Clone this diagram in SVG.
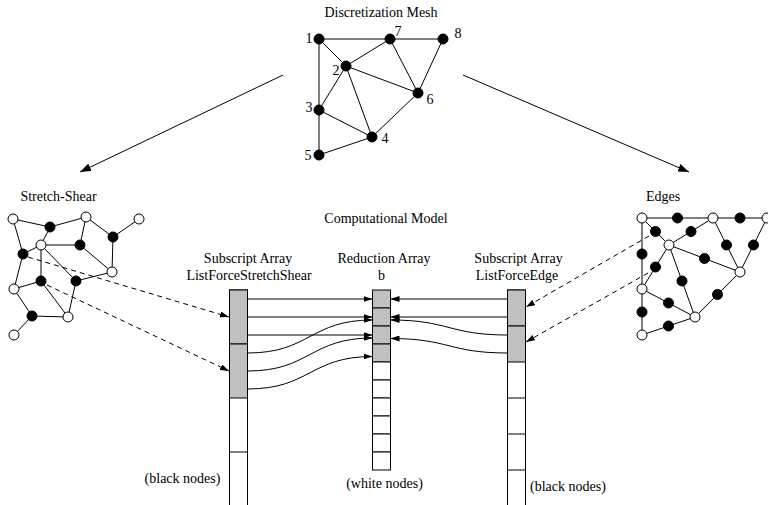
<svg xmlns="http://www.w3.org/2000/svg" width="768" height="505" viewBox="0 0 768 505">
<style>
text{font-family:"Liberation Serif","Times New Roman",serif;font-size:14px;fill:#000}
.c{text-anchor:middle}
.e{stroke:#000;stroke-width:1;fill:none}
.bn{fill:#000;stroke:#000;stroke-width:1}
.wn{fill:#fff;stroke:#000;stroke-width:1}
.g{fill:#c0c0c0;stroke:#000;stroke-width:1}
.w{fill:#fff;stroke:#000;stroke-width:1}
.a{stroke:#000;stroke-width:1;fill:none;marker-end:url(#ah)}
.d{stroke:#000;stroke-width:1;fill:none;stroke-dasharray:5,4;marker-end:url(#ah)}
</style>
<defs>
<marker id="ah" markerUnits="userSpaceOnUse" markerWidth="9" markerHeight="6" refX="9" refY="3" orient="auto">
<path d="M0,0 L9,3 L0,6 z" fill="#000"/>
</marker>
<marker id="ah2" markerUnits="userSpaceOnUse" markerWidth="11" markerHeight="8" refX="11" refY="4" orient="auto">
<path d="M0,0 L11,4 L0,8 z" fill="#000"/>
</marker>
</defs>
<rect width="768" height="505" fill="#fff"/>

<!-- Discretization mesh -->
<g id="mesh">
<text class="c" x="381" y="17">Discretization Mesh</text>
<g class="e">
<line x1="319" y1="39" x2="390" y2="39"/>
<line x1="390" y1="39" x2="443" y2="39"/>
<line x1="319" y1="39" x2="346" y2="66"/>
<line x1="346" y1="66" x2="390" y2="39"/>
<line x1="319" y1="39" x2="319" y2="155"/>
<line x1="346" y1="66" x2="319" y2="110"/>
<line x1="346" y1="66" x2="372" y2="137"/>
<line x1="346" y1="66" x2="418" y2="93"/>
<line x1="390" y1="39" x2="418" y2="93"/>
<line x1="443" y1="39" x2="418" y2="93"/>
<line x1="418" y1="93" x2="372" y2="137"/>
<line x1="319" y1="110" x2="372" y2="137"/>
<line x1="319" y1="155" x2="372" y2="137"/>
</g>
<g class="bn">
<circle cx="319" cy="39" r="5"/>
<circle cx="390" cy="39" r="5"/>
<circle cx="443" cy="39" r="5"/>
<circle cx="346" cy="66" r="5"/>
<circle cx="418" cy="93" r="5"/>
<circle cx="319" cy="110" r="5"/>
<circle cx="372" cy="137" r="5"/>
<circle cx="319" cy="155" r="5"/>
</g>
<text class="c" x="309" y="43">1</text>
<text class="c" x="398" y="36">7</text>
<text class="c" x="458" y="38">8</text>
<text class="c" x="336" y="75">2</text>
<text class="c" x="430" y="104">6</text>
<text class="c" x="309" y="112">3</text>
<text class="c" x="385" y="143">4</text>
<text class="c" x="308" y="160">5</text>
</g>

<!-- Stretch-Shear -->
<g id="stretch-shear">
<text class="c" x="58.5" y="201">Stretch-Shear</text>
<g class="e">
<line x1="13" y1="219" x2="50" y2="227"/>
<line x1="13" y1="219" x2="23" y2="254"/>
<line x1="50" y1="227" x2="86" y2="217"/>
<line x1="50" y1="227" x2="41" y2="245"/>
<line x1="86" y1="217" x2="80" y2="245"/>
<line x1="86" y1="217" x2="113" y2="237"/>
<line x1="113" y1="237" x2="139" y2="219"/>
<line x1="113" y1="237" x2="112" y2="272"/>
<line x1="41" y1="245" x2="80" y2="245"/>
<line x1="41" y1="245" x2="23" y2="254"/>
<line x1="41" y1="245" x2="41" y2="281"/>
<line x1="41" y1="245" x2="76" y2="281"/>
<line x1="80" y1="245" x2="112" y2="272"/>
<line x1="112" y1="272" x2="76" y2="281"/>
<line x1="23" y1="254" x2="14" y2="289"/>
<line x1="41" y1="281" x2="14" y2="289"/>
<line x1="41" y1="281" x2="68" y2="317"/>
<line x1="76" y1="281" x2="68" y2="317"/>
<line x1="14" y1="289" x2="32" y2="316"/>
<line x1="32" y1="316" x2="68" y2="317"/>
<line x1="32" y1="316" x2="14" y2="335"/>
</g>
<g class="wn">
<circle cx="13" cy="219" r="5"/>
<circle cx="86" cy="217" r="5"/>
<circle cx="139" cy="219" r="5"/>
<circle cx="41" cy="245" r="5"/>
<circle cx="112" cy="272" r="5"/>
<circle cx="14" cy="289" r="5"/>
<circle cx="68" cy="317" r="5"/>
<circle cx="14" cy="335" r="5"/>
</g>
<g class="bn">
<circle cx="50" cy="227" r="5"/>
<circle cx="113" cy="237" r="5"/>
<circle cx="80" cy="245" r="5"/>
<circle cx="23" cy="254" r="5"/>
<circle cx="41" cy="281" r="5"/>
<circle cx="76" cy="281" r="5"/>
<circle cx="32" cy="316" r="5"/>
</g>
</g>

<!-- Edges -->
<g id="edges">
<text class="c" x="663" y="201">Edges</text>
<g class="e">
<line x1="642" y1="218" x2="713" y2="218"/>
<line x1="713" y1="218" x2="767" y2="218"/>
<line x1="642" y1="218" x2="669" y2="245"/>
<line x1="669" y1="245" x2="713" y2="218"/>
<line x1="642" y1="218" x2="642" y2="335"/>
<line x1="669" y1="245" x2="642" y2="289"/>
<line x1="669" y1="245" x2="695" y2="317"/>
<line x1="669" y1="245" x2="740" y2="272"/>
<line x1="713" y1="218" x2="740" y2="272"/>
<line x1="767" y1="218" x2="740" y2="272"/>
<line x1="740" y1="272" x2="695" y2="317"/>
<line x1="642" y1="289" x2="695" y2="317"/>
<line x1="642" y1="335" x2="695" y2="317"/>
</g>
<g class="bn">
<circle cx="677.5" cy="218" r="5"/>
<circle cx="740" cy="218" r="5"/>
<circle cx="655.5" cy="231.5" r="5"/>
<circle cx="691" cy="231.5" r="5"/>
<circle cx="726.5" cy="245" r="5"/>
<circle cx="753.5" cy="245" r="5"/>
<circle cx="642" cy="254" r="5"/>
<circle cx="655.5" cy="267" r="5"/>
<circle cx="704.5" cy="258.5" r="5"/>
<circle cx="682" cy="281" r="5"/>
<circle cx="717.5" cy="294.5" r="5"/>
<circle cx="668.5" cy="303" r="5"/>
<circle cx="642" cy="312" r="5"/>
<circle cx="668.5" cy="326" r="5"/>
</g>
<g class="wn">
<circle cx="642" cy="218" r="5"/>
<circle cx="713" cy="218" r="5"/>
<circle cx="767" cy="218" r="5"/>
<circle cx="669" cy="245" r="5"/>
<circle cx="740" cy="272" r="5"/>
<circle cx="642" cy="289" r="5"/>
<circle cx="695" cy="317" r="5"/>
<circle cx="642" cy="335" r="5"/>
</g>
</g>

<text class="c" x="386" y="223">Computational Model</text>

<!-- Left array -->
<g id="array-stretchshear">
<text class="c" x="248" y="263">Subscript Array</text>
<text class="c" x="249" y="280">ListForceStretchShear</text>
<rect class="w" x="229.5" y="290" width="18" height="230"/>
<rect class="g" x="229.5" y="290" width="18" height="54"/>
<rect class="g" x="229.5" y="344" width="18" height="54"/>
<line class="e" x1="229.5" y1="452" x2="247.5" y2="452"/>
<text class="c" x="182.5" y="483">(black nodes)</text>
</g>

<!-- Reduction array -->
<g id="array-b">
<text class="c" x="384" y="263">Reduction Array</text>
<text class="c" x="381.5" y="280">b</text>
<rect class="g" x="372.5" y="290" width="18" height="18"/>
<rect class="g" x="372.5" y="308" width="18" height="18"/>
<rect class="g" x="372.5" y="326" width="18" height="18"/>
<rect class="g" x="372.5" y="344" width="18" height="18"/>
<rect class="w" x="372.5" y="362" width="18" height="18"/>
<rect class="w" x="372.5" y="380" width="18" height="18"/>
<rect class="w" x="372.5" y="398" width="18" height="18"/>
<rect class="w" x="372.5" y="416" width="18" height="18"/>
<rect class="w" x="372.5" y="434" width="18" height="18"/>
<rect class="w" x="372.5" y="452" width="18" height="18"/>
<text class="c" x="384.5" y="488">(white nodes)</text>
</g>

<!-- Right array -->
<g id="array-edge">
<text class="c" x="518.5" y="263">Subscript Array</text>
<text class="c" x="517" y="280">ListForceEdge</text>
<rect class="w" x="507.5" y="290" width="18" height="230"/>
<rect class="g" x="507.5" y="290" width="18" height="36"/>
<rect class="g" x="507.5" y="326" width="18" height="36"/>
<line class="e" x1="507.5" y1="398" x2="525.5" y2="398"/>
<line class="e" x1="507.5" y1="434" x2="525.5" y2="434"/>
<line class="e" x1="507.5" y1="470" x2="525.5" y2="470"/>
<text x="530" y="491">(black nodes)</text>
</g>

<!-- connectors -->
<g id="connectors">
<line x1="283" y1="75" x2="80" y2="172" stroke="#000" stroke-width="1" marker-end="url(#ah2)"/>
<line x1="463" y1="75" x2="689" y2="172" stroke="#000" stroke-width="1" marker-end="url(#ah2)"/>
<path class="d" d="M28,257 L229,317"/>
<path class="d" d="M47,285 L229,371"/>
<path class="d" d="M649,236 L526,307"/>
<path class="d" d="M648,273 L526,342"/>
<path class="a" d="M247.5,299 L372.5,299"/>
<path class="a" d="M247.5,317 L372.5,317"/>
<path class="a" d="M247.5,335 L372.5,335"/>
<path class="a" d="M247.5,353 C310,353 310,320 372.5,320"/>
<path class="a" d="M247.5,371 C310,371 310,338 372.5,338"/>
<path class="a" d="M247.5,389 C310,389 310,356.5 372.5,356.5"/>
<path class="a" d="M507.5,299 L390.5,299"/>
<path class="a" d="M507.5,317 L390.5,317"/>
<path class="a" d="M507.5,335 C449,335 449,320 390.5,320"/>
<path class="a" d="M507.5,353 C449,353 449,338.5 390.5,338.5"/>
</g>
</svg>
